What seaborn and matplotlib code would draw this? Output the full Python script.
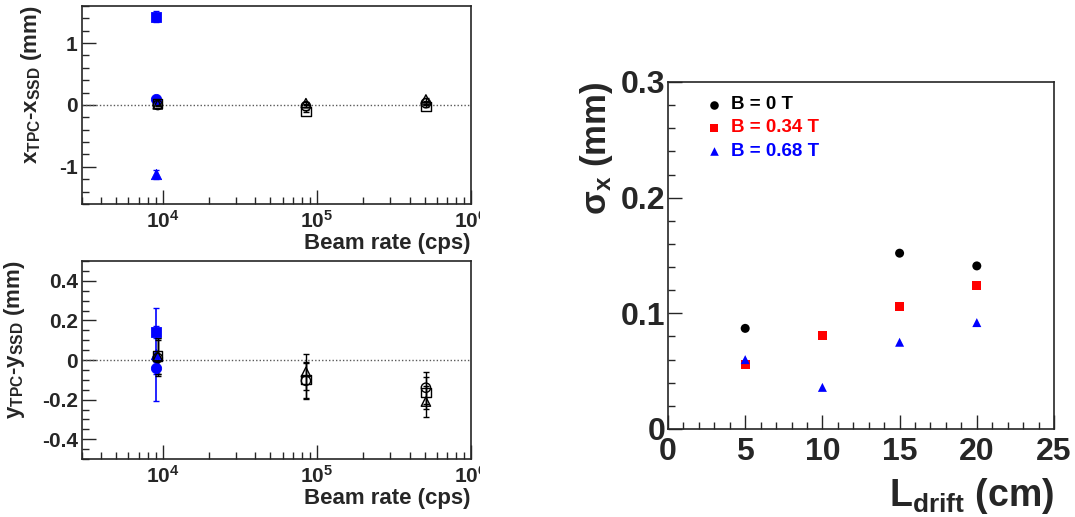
import numpy as np
import pandas as pd
import matplotlib
matplotlib.use("Agg")
import matplotlib.pyplot as plt
import seaborn as sns
from matplotlib.ticker import FixedLocator, MultipleLocator, LogLocator, NullFormatter, FuncFormatter
from matplotlib.transforms import Bbox, TransformedBbox

sns.set_style("ticks")
plt.rcParams['font.family'] = ['Liberation Sans', 'DejaVu Sans']
plt.rcParams['font.weight'] = 'bold'
plt.rcParams['mathtext.fontset'] = 'custom'
plt.rcParams['mathtext.rm'] = 'Liberation Sans:bold'
plt.rcParams['mathtext.bf'] = 'Liberation Sans:bold'
plt.rcParams['mathtext.it'] = 'Liberation Sans:bold'
plt.rcParams['mathtext.sf'] = 'Liberation Sans'

# ---------------- data ----------------
# Left panels: beam rate scans
rate_low = [9.1e3]
rate_all = [9.3e3, 8.5e4, 5.1e5]

# x residuals (mm)
dx_blue_sq = [1.43]; dx_blue_sq_err = [0.09]
dx_blue_ci = [0.09]; dx_blue_ci_err = [0.02]
dx_blue_tr = [-1.12]; dx_blue_tr_err = [0.07]
dx_open_ci = [0.00, -0.02, 0.03]
dx_open_sq = [0.02, -0.10, -0.02]
dx_open_tr = [0.01, 0.03, 0.09]
dx_open_err = [0.02, 0.02, 0.02]

# y residuals (mm)
dy_blue_sq = [0.14]; dy_blue_sq_err = [0.03]
dy_blue_ci = [-0.04]; dy_blue_ci_err = [0.03]
dy_blue_tr = [0.03]; dy_blue_tr_err = [0.235]
dy_open_ci = [0.01, -0.105, -0.14]
dy_open_sq = [0.02, -0.10, -0.165]
dy_open_tr = [0.02, -0.06, -0.21]
dy_open_err = [0.09, 0.09, 0.08]

# Right panel: sigma_x vs drift length
L_drift = [5, 10, 15, 20]
sig_B0 = [0.087, np.nan, 0.152, 0.141]
sig_B034 = [0.056, 0.081, 0.106, 0.124]
sig_B068 = [0.060, 0.036, 0.075, 0.092]
legend_labels = ["B = 0 T", "B = 0.34 T", "B = 0.68 T"]

# ---------------- figure ----------------
W, H = 1075, 517
fig = plt.figure(figsize=(W / 100, H / 100), dpi=100)

def frac(l, t, r, b):
    return [l / W, 1 - b / H, (r - l) / W, (b - t) / H]

ax1 = fig.add_axes(frac(82, 6, 471, 204))
ax2 = fig.add_axes(frac(82, 261, 471, 459))
ax3 = fig.add_axes(frac(668, 82, 1054, 429))

BLUE = "#0000ff"
RED = "#ff0000"

def residual_panel(ax, blue, opens, open_err, ylim, major, minor, ylabel):
    ax.axhline(0, color="0.35", lw=1, ls=(0, (1, 1.5)), zorder=1)
    # blue filled markers at low rate
    for (vals, err), mk in zip(blue, ["s", "o", "^"]):
        ax.errorbar(rate_low, vals, yerr=err, fmt="none", ecolor=BLUE, elinewidth=1.2, capsize=2, zorder=2)
        sns.scatterplot(x=rate_low, y=vals, marker=mk, color=BLUE, edgecolor=BLUE, s=55, ax=ax, zorder=3, legend=False)
    # open black markers
    for vals, mk in zip(opens, ["o", "s", "^"]):
        ax.errorbar(rate_all, vals, yerr=open_err, fmt="none", ecolor="black", elinewidth=1, capsize=2, zorder=2)
        sns.scatterplot(x=rate_all, y=vals, marker=mk, facecolor="none", edgecolor="black", linewidth=1, s=45, ax=ax, zorder=4, legend=False)
    ax.set_xscale("log")
    ax.set_xlim(3e3, 1e6)
    ax.set_ylim(*ylim)
    ax.yaxis.set_major_locator(MultipleLocator(major))
    ax.yaxis.set_minor_locator(MultipleLocator(minor))
    ax.xaxis.set_major_locator(FixedLocator([1e4, 1e5, 1e6]))
    ax.xaxis.set_minor_locator(LogLocator(base=10, subs=np.arange(2, 10)))
    ax.xaxis.set_minor_formatter(NullFormatter())
    ax.xaxis.set_major_formatter(FuncFormatter(lambda v, p: r"$10^{%d}$" % int(round(np.log10(v)))))
    ax.yaxis.set_major_formatter(FuncFormatter(lambda v, p: ("%g" % round(v, 2)) if abs(v) > 1e-9 else "0"))
    ax.tick_params(axis="both", which="major", direction="in", length=10, width=1, labelsize=15, pad=4)
    ax.tick_params(axis="both", which="minor", direction="in", length=5, width=1)
    ax.tick_params(axis="y", pad=3)
    for sp in ax.spines.values():
        sp.set_linewidth(1.2)
        sp.set_visible(True)
    ax.set_xlabel("Beam rate (cps)", fontsize=16, fontweight="bold", loc="right", labelpad=1)
    ax.set_ylabel(ylabel, fontsize=16, fontweight="bold", loc="top", labelpad=11)
    clip = TransformedBbox(Bbox([[0, 0], [480 / W, 1]]), fig.transFigure)
    for lab in ax.get_xticklabels():
        lab.set_clip_box(clip)
        lab.set_clip_on(True)

residual_panel(ax1,
               [(dx_blue_sq, dx_blue_sq_err), (dx_blue_ci, dx_blue_ci_err), (dx_blue_tr, dx_blue_tr_err)],
               [dx_open_ci, dx_open_sq, dx_open_tr], dx_open_err,
               (-1.6, 1.6), 1, 0.2, r"$\mathrm{x_{TPC}}$-$\mathrm{x_{SSD}}$ (mm)")
residual_panel(ax2,
               [(dy_blue_sq, dy_blue_sq_err), (dy_blue_ci, dy_blue_ci_err), (dy_blue_tr, dy_blue_tr_err)],
               [dy_open_ci, dy_open_sq, dy_open_tr], dy_open_err,
               (-0.5, 0.5), 0.2, 0.05, r"$\mathrm{y_{TPC}}$-$\mathrm{y_{SSD}}$ (mm)")

# Right panel
df = pd.DataFrame({
    "L": L_drift * 3,
    "sigma": sig_B0 + sig_B034 + sig_B068,
    "B": [legend_labels[0]] * 4 + [legend_labels[1]] * 4 + [legend_labels[2]] * 4,
}).dropna()
palette = dict(zip(legend_labels, ["black", RED, BLUE]))
markers = dict(zip(legend_labels, ["o", "s", "^"]))
sns.scatterplot(data=df, x="L", y="sigma", hue="B", style="B", palette=palette, markers=markers,
                s=42, linewidth=0, ax=ax3, legend=False, zorder=3)
ax3.set_xlim(0, 25)
ax3.set_ylim(0, 0.3)
ax3.xaxis.set_major_locator(MultipleLocator(5))
ax3.xaxis.set_minor_locator(MultipleLocator(1))
ax3.yaxis.set_major_locator(MultipleLocator(0.1))
ax3.yaxis.set_minor_locator(MultipleLocator(0.02))
ax3.yaxis.set_major_formatter(FuncFormatter(lambda v, p: "0" if abs(v) < 1e-9 else "%.1f" % v))
ax3.tick_params(axis="both", which="major", direction="in", length=10, width=1, labelsize=23)
ax3.tick_params(axis="both", which="minor", direction="in", length=5, width=1)
ax3.tick_params(axis="x", pad=6)
ax3.tick_params(axis="y", pad=2)
for sp in ax3.spines.values():
    sp.set_linewidth(1.2)
    sp.set_visible(True)
ax3.set_xlabel(r"$\mathrm{L_{drift}}$ (cm)", fontsize=27, fontweight="bold", loc="right", labelpad=6)
ax3.set_ylabel(r"$\mathsf{\sigma}_{\mathrm{x}}$ (mm)", fontsize=25, fontweight="bold", loc="top", labelpad=4)

# Legend (manual, ROOT-like)
for i, (lab, col, mk) in enumerate(zip(legend_labels, ["black", RED, BLUE], ["o", "s", "^"])):
    yy = 0.935 - i * 0.067
    ax3.scatter([0.12], [yy], marker=mk, color=col, s=38, linewidths=0, transform=ax3.transAxes, clip_on=False)
    ax3.text(0.163, yy, lab, color=col, fontsize=13.5, fontweight="bold", va="center", ha="left", transform=ax3.transAxes)

fig.savefig("out.png", dpi=100)
